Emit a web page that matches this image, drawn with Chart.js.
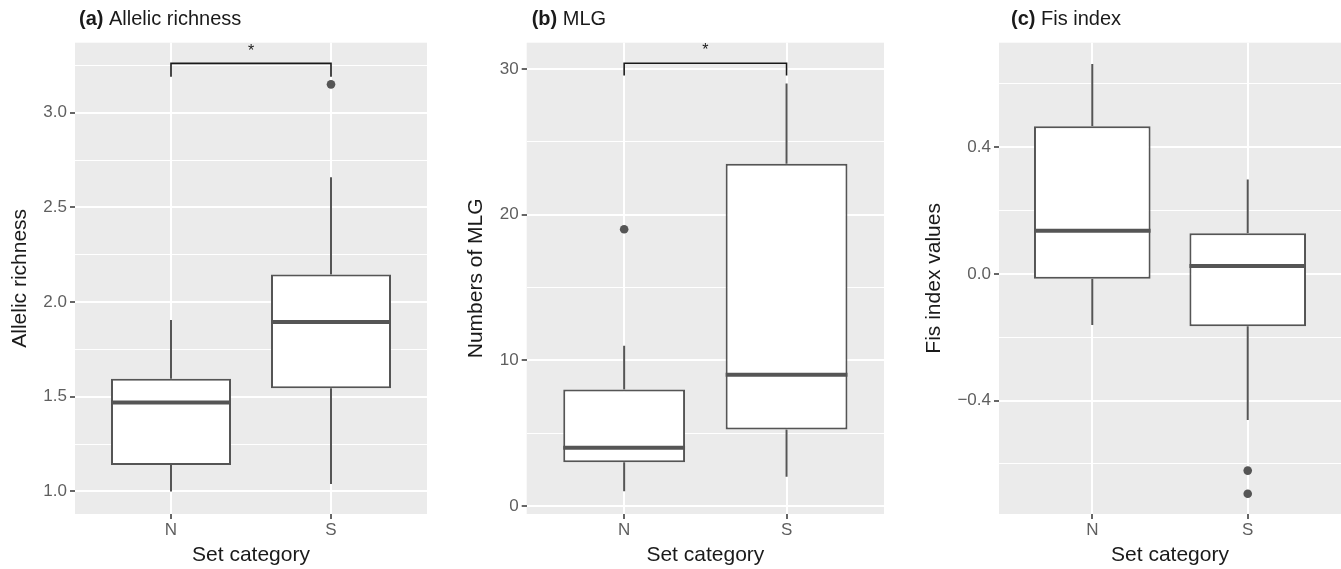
<!DOCTYPE html>
<html>
<head>
<meta charset="utf-8">
<script src="https://cdn.jsdelivr.net/npm/chart.js@4.4.1/dist/chart.umd.min.js"></script>
<style>
    body { margin: 0; background: #ffffff; }
    #wrap { position: relative; width: 1341px; height: 569px; overflow: hidden; }
    canvas { position: absolute; top: 0; }
</style>
</head>
<body>
<div id="wrap">
    <canvas id="painelA" width="447" height="569" style="left:0px"></canvas>
    <canvas id="painelB" width="447" height="569" style="left:447px"></canvas>
    <canvas id="painelC" width="447" height="569" style="left:894px"></canvas>
</div>
<script>
const categories = ['N', 'S'];

// (a) Allelic richness
const richLow = [1.00, 1.04];
const richQ1 = [1.14, 1.545];
const richMed = [1.47, 1.895];
const richQ3 = [1.595, 2.146];
const richHigh = [1.906, 2.66];
const richOutliers = [[], [3.15]];
const richTicks = [1.0, 1.5, 2.0, 2.5, 3.0];
const richTickLabels = ['1.0', '1.5', '2.0', '2.5', '3.0'];
const richMinor = [1.25, 1.75, 2.25, 2.75, 3.25];
const richRange = [0.881, 3.37];
const richBracket = [3.19, 3.261];
const richStar = 3.348;

// (b) MLG
const mlgLow = [1, 2];
const mlgQ1 = [3, 5.25];
const mlgMed = [4, 9];
const mlgQ3 = [8, 23.5];
const mlgHigh = [11, 29];
const mlgOutliers = [[19], []];
const mlgTicks = [0, 10, 20, 30];
const mlgTickLabels = ['0', '10', '20', '30'];
const mlgMinor = [5, 15, 25];
const mlgRange = [-0.556, 31.81];
const mlgBracket = [29.55, 30.4];
const mlgStar = 31.57;

// (c) Fis index
const fisLow = [-0.161, -0.461];
const fisQ1 = [-0.015, -0.165];
const fisMed = [0.136, 0.025];
const fisQ3 = [0.466, 0.128];
const fisHigh = [0.663, 0.298];
const fisOutliers = [[], [-0.621, -0.694]];
const fisTicks = [-0.4, 0.0, 0.4];
const fisTickLabels = ['\u22120.4', '0.0', '0.4'];
const fisMinor = [-0.6, -0.2, 0.2, 0.6];
const fisRange = [-0.758, 0.73];

const FONT = "'Liberation Sans', Arial, Helvetica, sans-serif";
const BOX_WIDTH = 0.75;
const LINE_COLOR = '#555555';
const TICK_TEXT = '#5f5f5f';
const TITLE_Y = 25;

function near(a, b) {
    return Math.abs(a - b) < 1e-6;
}

function makePanel(id, p) {
    const xs = categories.map((c, i) => i + 1);

    const boxes = xs.map((x, i) => ({ x: x, y: [p.q1[i], p.q3[i]] }));
    const whiskers = [];
    const medians = [];
    const outliers = [];
    xs.forEach(function (x, i) {
        whiskers.push({ x: x, y: p.low[i] }, { x: x, y: p.q1[i] }, { x: x, y: null });
        whiskers.push({ x: x, y: p.q3[i] }, { x: x, y: p.high[i] }, { x: x, y: null });
        medians.push({ x: x - BOX_WIDTH / 2, y: p.med[i] }, { x: x + BOX_WIDTH / 2, y: p.med[i] }, { x: x, y: null });
        p.out[i].forEach(v => outliers.push({ x: x, y: v }));
    });

    const datasets = [
        {
            type: 'bar', data: boxes, backgroundColor: '#ffffff', borderColor: LINE_COLOR,
            borderWidth: 2, borderSkipped: false, barPercentage: BOX_WIDTH, categoryPercentage: 1, order: 2
        },
        {
            type: 'line', data: whiskers, borderColor: LINE_COLOR, borderWidth: 2,
            pointRadius: 0, spanGaps: false, order: 3
        },
        {
            type: 'line', data: medians, borderColor: LINE_COLOR, borderWidth: 4,
            pointRadius: 0, spanGaps: false, borderCapStyle: 'butt', order: 1
        },
        {
            type: 'scatter', data: outliers, backgroundColor: LINE_COLOR, borderColor: LINE_COLOR,
            pointRadius: 4.3, borderWidth: 0, order: 0
        }
    ];
    if (p.bracket) {
        datasets.push({
            type: 'line',
            data: [
                { x: 1, y: p.bracket[0] }, { x: 1, y: p.bracket[1] },
                { x: 2, y: p.bracket[1] }, { x: 2, y: p.bracket[0] }
            ],
            borderColor: '#1a1a1a', borderWidth: 1.6, pointRadius: 0, order: 0
        });
    }

    const isMajor = v => p.ticks.some(t => near(t, v));

    // fundo cinza do painel + titulo + asterisco
    const decor = {
        id: 'decor_' + id,
        beforeDraw(chart) {
            const a = chart.chartArea;
            const ctx = chart.ctx;
            ctx.save();
            ctx.fillStyle = '#ebebeb';
            ctx.fillRect(a.left, a.top, a.right - a.left, a.bottom - a.top);
            ctx.restore();
        },
        afterDraw(chart) {
            const ctx = chart.ctx;
            const x0 = chart.chartArea.left + p.titleDx;
            ctx.save();
            ctx.fillStyle = '#1a1a1a';
            ctx.textBaseline = 'alphabetic';
            ctx.textAlign = 'left';
            ctx.font = 'bold 20px ' + FONT;
            ctx.fillText(p.tag, x0, TITLE_Y);
            const w = ctx.measureText(p.tag + ' ').width;
            ctx.font = '20px ' + FONT;
            ctx.fillText(p.title, x0 + w, TITLE_Y);
            if (p.star !== undefined) {
                ctx.font = '16px ' + FONT;
                ctx.textAlign = 'center';
                const sx = chart.scales.x.getPixelForValue(1.5);
                const sy = chart.scales.y.getPixelForValue(p.star);
                ctx.fillText('*', sx, sy + 9);
            }
            ctx.restore();
        }
    };

    return new Chart(document.getElementById(id), {
        type: 'bar',
        data: { datasets: datasets },
        plugins: [decor],
        options: {
            responsive: false,
            animation: false,
            devicePixelRatio: 1,
            layout: { autoPadding: false, padding: { top: 42.7, right: p.padRight, left: 0, bottom: 0 } },
            plugins: { legend: { display: false }, tooltip: { enabled: false } },
            scales: {
                x: {
                    type: 'linear',
                    min: 0.4,
                    max: 2.6,
                    offset: false,
                    afterBuildTicks: scale => { scale.ticks = xs.map(v => ({ value: v })); },
                    afterFit: scale => {
                        scale.height = 55;
                        scale.paddingLeft = 0;
                        scale.paddingRight = 0;
                    },
                    ticks: {
                        autoSkip: false,
                        color: TICK_TEXT,
                        font: { family: FONT, size: 17 },
                        padding: 1,
                        callback: value => categories[Math.round(value) - 1] || ''
                    },
                    grid: {
                        offset: false,
                        color: '#ffffff',
                        lineWidth: 2,
                        tickColor: '#333333',
                        tickWidth: 1.5,
                        tickLength: 5
                    },
                    border: { display: false },
                    title: {
                        display: true,
                        text: 'Set category',
                        color: '#1a1a1a',
                        font: { family: FONT, size: 21, lineHeight: 1.2 },
                        padding: { top: 0, bottom: 1 }
                    }
                },
                y: {
                    type: 'linear',
                    min: p.range[0],
                    max: p.range[1],
                    bounds: 'data',
                    afterBuildTicks: scale => {
                        scale.ticks = p.ticks.concat(p.minor).sort((a, b) => a - b).map(v => ({ value: v }));
                    },
                    afterFit: scale => {
                        scale.width = p.axisWidth;
                        scale.paddingTop = 0;
                        scale.paddingBottom = 0;
                    },
                    ticks: {
                        autoSkip: false,
                        color: TICK_TEXT,
                        font: { family: FONT, size: 17 },
                        padding: 3,
                        callback: value => {
                            const k = p.ticks.findIndex(t => near(t, value));
                            return k >= 0 ? p.labels[k] : '';
                        }
                    },
                    grid: {
                        color: '#ffffff',
                        lineWidth: ctx => (ctx.tick && isMajor(ctx.tick.value)) ? 2 : 1,
                        tickColor: ctx => (ctx.tick && isMajor(ctx.tick.value)) ? '#333333' : 'rgba(0,0,0,0)',
                        tickWidth: 1.5,
                        tickLength: 5
                    },
                    border: { display: false },
                    title: {
                        display: true,
                        text: p.yTitle,
                        color: '#1a1a1a',
                        font: { family: FONT, size: 21, lineHeight: 1.2 },
                        padding: { top: p.yTitlePad, bottom: 0 }
                    }
                }
            }
        }
    });
}

makePanel('painelA', {
    low: richLow, q1: richQ1, med: richMed, q3: richQ3, high: richHigh, out: richOutliers,
    ticks: richTicks, labels: richTickLabels, minor: richMinor, range: richRange,
    bracket: richBracket, star: richStar,
    tag: '(a)', title: 'Allelic richness', yTitle: 'Allelic richness',
    axisWidth: 75, padRight: 20, yTitlePad: 8.1, titleDx: 4
});

makePanel('painelB', {
    low: mlgLow, q1: mlgQ1, med: mlgMed, q3: mlgQ3, high: mlgHigh, out: mlgOutliers,
    ticks: mlgTicks, labels: mlgTickLabels, minor: mlgMinor, range: mlgRange,
    bracket: mlgBracket, star: mlgStar,
    tag: '(b)', title: 'MLG', yTitle: 'Numbers of MLG',
    axisWidth: 79.7, padRight: 10, yTitlePad: 17.1, titleDx: 5
});

makePanel('painelC', {
    low: fisLow, q1: fisQ1, med: fisMed, q3: fisQ3, high: fisHigh, out: fisOutliers,
    ticks: fisTicks, labels: fisTickLabels, minor: fisMinor, range: fisRange,
    tag: '(c)', title: 'Fis index', yTitle: 'Fis index values',
    axisWidth: 105, padRight: 0, yTitlePad: 27.7, titleDx: 12
});
</script>
</body>
</html>
